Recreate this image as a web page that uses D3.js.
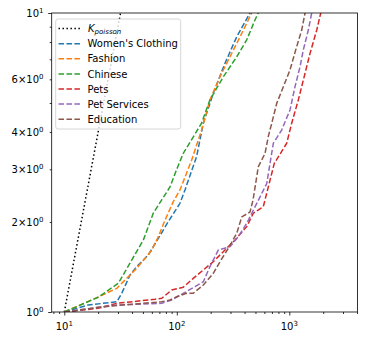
<!DOCTYPE html>
<html>
<head>
<meta charset="utf-8">
<script src="https://cdn.jsdelivr.net/npm/d3@7/dist/d3.min.js"></script>
<style>
  body { margin: 0; background: #fff; }
  svg { display: block; }
  text { font-family: "DejaVu Sans", sans-serif; font-size: 10px; fill: #000; }
</style>
</head>
<body>
<svg id="chart" width="367" height="340"></svg>
<script>
// ---- data ----
const poissonX = [10, 15, 20, 25, 30, 33];
const poissonY = [1, 2.25, 4, 6.25, 9, 10.9];

const womensX = [10, 16.3, 29.3, 32.4, 38.4, 44.0, 55.8, 68.5, 84.0, 106.7, 118.2, 150, 172, 211, 268, 341, 447, 485];
const womensY = [1.00, 1.055, 1.082, 1.155, 1.33, 1.418, 1.551, 1.764, 2.005, 2.31, 2.56, 3.31, 4.28, 5.39, 6.79, 8.33, 10, 10.6];

const fashionX = [10, 17.5, 29.3, 35.9, 44.0, 59.9, 68.5, 78.6, 93.1, 106.7, 135.5, 166, 197, 242, 297, 365, 463, 496];
const fashionY = [1.00, 1.097, 1.20, 1.296, 1.40, 1.61, 1.786, 2.03, 2.34, 2.56, 3.22, 4.06, 5.12, 6.12, 7.14, 8.33, 10, 10.6];

const chineseX = [10, 20.0, 30.2, 39.7, 50.4, 61.8, 73.4, 87, 99.8, 114, 166, 197, 259, 341, 418, 495, 530, 560];
const chineseY = [1.00, 1.12, 1.247, 1.49, 1.74, 2.14, 2.37, 2.62, 3.0, 3.39, 4.28, 5.12, 6.12, 7.14, 8.13, 9.48, 10, 10.6];

const petsX = [10, 20, 29.3, 64, 73.4, 90.2, 114, 140, 172, 211, 268, 329, 418, 479, 587, 735, 948, 1050, 1202, 1380, 1528, 1753, 1902, 1960];
const petsY = [1.00, 1.029, 1.069, 1.103, 1.111, 1.185, 1.21, 1.296, 1.382, 1.473, 1.612, 1.741, 1.929, 2.14, 2.25, 3.14, 3.67, 4.28, 5.12, 6.29, 7.33, 8.77, 10, 10.5];

const petServicesX = [10, 29.3, 73.4, 90.2, 114, 145, 172, 197, 234, 297, 352, 418, 479, 630, 721, 855, 1014, 1124, 1245, 1331, 1475, 1581, 1630];
const petServicesY = [1.00, 1.055, 1.069, 1.097, 1.155, 1.215, 1.263, 1.418, 1.612, 1.654, 1.786, 1.98, 2.19, 2.69, 3.67, 4.06, 4.74, 5.67, 6.61, 7.52, 8.77, 10, 10.5];

const educationX = [10, 20, 32.4, 73.4, 87, 99.8, 122, 140, 172, 211, 242, 287, 341, 378, 447, 476, 530, 608, 650, 698, 773, 885, 1014, 1163, 1289, 1380, 1410];
const educationY = [1.00, 1.037, 1.055, 1.082, 1.097, 1.125, 1.155, 1.155, 1.231, 1.347, 1.473, 1.633, 1.833, 2.08, 2.16, 2.37, 3.06, 3.39, 3.86, 4.28, 4.99, 5.67, 6.45, 7.72, 8.77, 10, 10.5];

const seriesNames = ["Women's Clothing", "Fashion", "Chinese", "Pets", "Pet Services", "Education"];
const seriesColors = ["#1f77b4", "#ff7f0e", "#2ca02c", "#d62728", "#9467bd", "#8c564b"];
const seriesX = [womensX, fashionX, chineseX, petsX, petServicesX, educationX];
const seriesY = [womensY, fashionY, chineseY, petsY, petServicesY, educationY];

const xTickValues = [10, 100, 1000];
const xTickExps = ["1", "2", "3"];
const yTickValues = [1, 2, 3, 4, 6, 10];
const yTickMantissas = ["", "2\u00d7", "3\u00d7", "4\u00d7", "6\u00d7", ""];
const yTickExps = ["0", "0", "0", "0", "0", "1"];

// ---- layout ----
const L = 51.7, R = 357.5, T = 13, B = 312;
const svg = d3.select("#chart");
const x = d3.scaleLog().domain([7.727, 4036]).range([L, R]);
const y = d3.scaleLog().domain([1, 10]).range([B, T]);

svg.append("defs").append("clipPath").attr("id", "clip")
  .append("rect").attr("x", L).attr("y", T).attr("width", R - L).attr("height", B - T);

const line = d3.line().x(d => x(d[0])).y(d => y(d[1]));
const plot = svg.append("g").attr("clip-path", "url(#clip)");

plot.append("path")
  .datum(poissonX.map((v, i) => [v, poissonY[i]]))
  .attr("d", line).attr("fill", "none").attr("stroke", "#000")
  .attr("stroke-width", 1.5).attr("stroke-dasharray", "1.5,2.475");

seriesNames.forEach((n, k) => {
  plot.append("path")
    .datum(seriesX[k].map((v, i) => [v, seriesY[k][i]]))
    .attr("d", line).attr("fill", "none").attr("stroke", seriesColors[k])
    .attr("stroke-width", 1.5).attr("stroke-dasharray", "5.55,2.4");
});

// ---- axes ----
const xMinor = [];
[1, 10, 100, 1000].forEach(d => { for (let m = 2; m <= 9; m++) { const v = m * d; if (v >= 7.727 && v <= 4036 && xTickValues.indexOf(v) < 0) xMinor.push(v); } });
const yMinor = [2, 3, 4, 5, 6, 7, 8, 9];

const xAxisMajor = d3.axisBottom(x).tickValues(xTickValues).tickSize(3.5).tickPadding(3.5).tickFormat("");
const xAxisMinor = d3.axisBottom(x).tickValues(xMinor).tickSize(2).tickFormat("");
const yAxisMajor = d3.axisLeft(y).tickValues([1, 10]).tickSize(3.5).tickFormat("");
const yAxisMinor = d3.axisLeft(y).tickValues(yMinor).tickSize(2).tickFormat("");

[xAxisMajor, xAxisMinor].forEach(a => {
  const g = svg.append("g").attr("transform", `translate(0,${B})`).call(a);
  g.select(".domain").remove();
  g.selectAll("line").attr("stroke", "#000").attr("stroke-width", 0.8);
});
[yAxisMajor, yAxisMinor].forEach(a => {
  const g = svg.append("g").attr("transform", `translate(${L},0)`).call(a);
  g.select(".domain").remove();
  g.selectAll("line").attr("stroke", "#000").attr("stroke-width", 0.8);
});

// x labels
xTickValues.forEach((v, i) => {
  const t = svg.append("text").attr("x", x(v)).attr("y", 330).attr("text-anchor", "middle");
  t.append("tspan").text("10");
  t.append("tspan").attr("dy", -4).attr("font-size", "7px").text(xTickExps[i]);
});
// y labels
yTickValues.forEach((v, i) => {
  const t = svg.append("text").attr("x", 43.5).attr("y", y(v) + 3.6).attr("text-anchor", "end");
  t.append("tspan").text(yTickMantissas[i] + "10");
  t.append("tspan").attr("dy", -4).attr("font-size", "7px").text(yTickExps[i]);
});

// frame
svg.append("rect").attr("x", L).attr("y", T).attr("width", R - L).attr("height", B - T)
  .attr("fill", "none").attr("stroke", "#000").attr("stroke-width", 0.8);

// ---- legend ----
const lg = svg.append("g");
lg.append("rect").attr("x", 55.7).attr("y", 19).attr("width", 125).attr("height", 110)
  .attr("rx", 2.5).attr("fill", "#fff").attr("fill-opacity", 0.8)
  .attr("stroke", "#cccccc").attr("stroke-width", 0.8);

const ly0 = 28.6, dyl = 15.1;
lg.append("line").attr("x1", 58.5).attr("x2", 80.5).attr("y1", ly0).attr("y2", ly0)
  .attr("stroke", "#000").attr("stroke-width", 1.5).attr("stroke-dasharray", "1.5,2.475");
const kt = lg.append("text").attr("x", 88).attr("y", ly0 + 3.3).attr("font-style", "italic");
kt.append("tspan").text("K");
kt.append("tspan").attr("dy", 1.6).attr("font-size", "7px").text("poisson");

seriesNames.forEach((n, k) => {
  const yy = ly0 + dyl * (k + 1);
  lg.append("line").attr("x1", 58.5).attr("x2", 80.5).attr("y1", yy).attr("y2", yy)
    .attr("stroke", seriesColors[k]).attr("stroke-width", 1.5).attr("stroke-dasharray", "5.55,2.4");
  lg.append("text").attr("x", 87.5).attr("y", yy + 3.6).text(n);
});
</script>
</body>
</html>
